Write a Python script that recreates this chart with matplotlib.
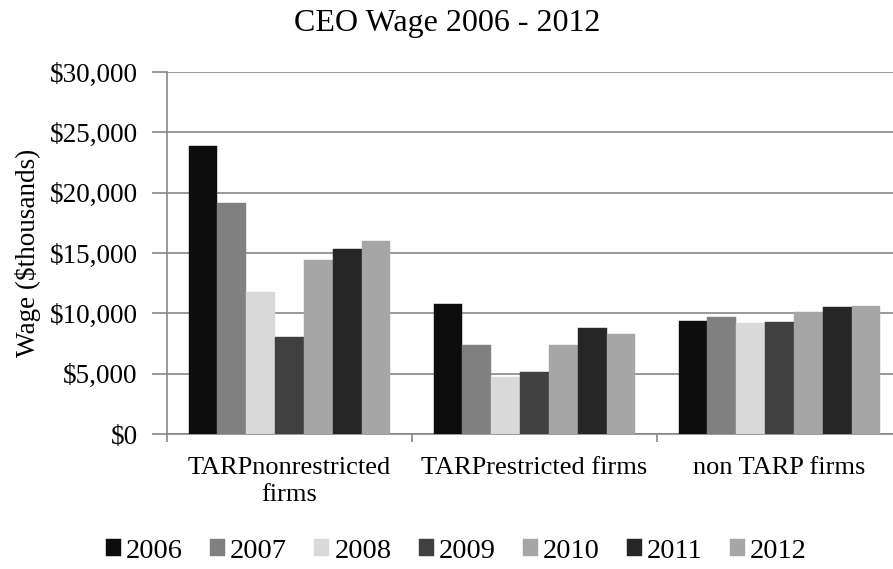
import matplotlib
matplotlib.use("Agg")
import matplotlib.pyplot as plt
import numpy as np
from matplotlib.ticker import FuncFormatter

# CEO wages in $ thousands, by firm group and year
groups = ["TARPnonrestricted\nfirms", "TARPrestricted firms", "non TARP firms"]
years = ["2006", "2007", "2008", "2009", "2010", "2011", "2012"]
wage_2006 = [23900, 10750, 9370]
wage_2007 = [19170, 7350, 9700]
wage_2008 = [11770, 4700, 9200]
wage_2009 = [8070, 5140, 9250]
wage_2010 = [14420, 7380, 10140]
wage_2011 = [15360, 8810, 10500]
wage_2012 = [16000, 8310, 10580]
series = [wage_2006, wage_2007, wage_2008, wage_2009, wage_2010, wage_2011, wage_2012]

colors = ["#0d0d0d", "#808080", "#d9d9d9", "#404040", "#a6a6a6", "#262626", "#a6a6a6"]
grid_gray = "#878787"

plt.rcParams["font.family"] = ["Liberation Serif", "DejaVu Serif"]

fig = plt.figure(figsize=(8.93, 5.69), dpi=100)
# plot area runs a little past the right edge of the figure
ax = fig.add_axes([167 / 893, 1 - 434 / 569, 735 / 893, 362 / 569])

x = np.arange(len(groups))
bw = 0.1176
for i, (vals, c) in enumerate(zip(series, colors)):
    off = (i - 3) * bw
    ax.bar(x + off, vals, bw, color=c, label=years[i], zorder=3,
           edgecolor=c, linewidth=0.3)

ax.set_xlim(-0.5, 2.5)
ax.set_ylim(0, 30000)
ax.set_yticks(np.arange(0, 30001, 5000))
ax.yaxis.set_major_formatter(FuncFormatter(lambda v, p: "${:,.0f}".format(v)))
ax.yaxis.grid(True, color=grid_gray, linewidth=1.2, zorder=0)
ax.set_axisbelow(True)

ax.set_xticks(x)
ax.set_xticklabels(groups, fontsize=19, linespacing=1.3)
ax.set_xticks([-0.5, 0.5, 1.5, 2.5], minor=True)
ax.tick_params(axis="x", which="major", length=0, pad=16.5)
ax.tick_params(axis="x", which="minor", length=6, width=1.2, color=grid_gray)
ax.tick_params(axis="y", length=11, width=1.2, color=grid_gray, pad=10,
               labelsize=19.5)

for s in ["top", "right"]:
    ax.spines[s].set_visible(False)
for s in ["left", "bottom"]:
    ax.spines[s].set_color(grid_gray)
    ax.spines[s].set_linewidth(1.2)

ax.set_ylabel("Wage ($thousands)", fontsize=19.5, labelpad=6)
fig.suptitle("CEO Wage 2006 - 2012", x=0.501, y=1 - 9 / 569, va="top", fontsize=23)

handles, labels = ax.get_legend_handles_labels()
fig.legend(handles, labels, loc="center", bbox_to_anchor=(0.511, 1 - 551 / 569),
           ncol=7, frameon=False, fontsize=20.5, handlelength=0.53,
           handleheight=0.53, handletextpad=0.18, columnspacing=0.95,
           borderaxespad=0, borderpad=0)

fig.savefig("out.png", dpi=100)
